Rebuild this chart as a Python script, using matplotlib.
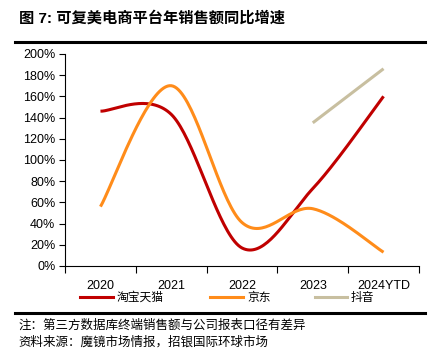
import numpy as np
import matplotlib.pyplot as plt
from matplotlib.lines import Line2D

plt.rcParams['font.family'] = ['Liberation Sans', 'Noto Sans CJK SC', 'DejaVu Sans']

# 数据
years = ['2020', '2021', '2022', '2023', '2024YTD']
taobao = [146, 143, 17, 73, 160]
jd = [56, 170, 41, 54, 13]
douyin_years = ['2023', '2024YTD']
douyin = [135, 186]

series_names = ['淘宝天猫', '京东', '抖音']
title = '图 7: 可复美电商平台年销售额同比增速'
note = '注：第三方数据库终端销售额与公司报表口径有差异'
source = '资料来源：魔镜市场情报，招银国际环球市场'


def smooth(xs, ys, n=40):
    # 类似 Excel 的平滑线 (Catmull-Rom / Bezier)
    xs = np.asarray(xs, float)
    ys = np.asarray(ys, float)
    px = np.concatenate([[xs[0]], xs, [xs[-1]]])
    py = np.concatenate([[ys[0]], ys, [ys[-1]]])
    outx, outy = [], []
    for i in range(1, len(px) - 2):
        t = np.linspace(0, 1, n)
        for p, out in ((px, outx), (py, outy)):
            p0, p1, p2, p3 = p[i - 1], p[i], p[i + 1], p[i + 2]
            c1 = p1 + (p2 - p0) / 6
            c2 = p2 - (p3 - p1) / 6
            out.extend((1 - t) ** 3 * p1 + 3 * (1 - t) ** 2 * t * c1
                       + 3 * (1 - t) * t ** 2 * c2 + t ** 3 * p2)
    return np.array(outx), np.array(outy)


fig = plt.figure(figsize=(4.31, 3.5), dpi=100)
ax = fig.add_axes([0.151, 0.24, 0.821, 0.606])

x = np.arange(len(years))
xd = np.array([years.index(y) for y in douyin_years])

c_red = '#C00000'
c_orange = '#FF8C1A'
c_beige = '#C8BFA0'

sx, sy = smooth(x, taobao)
ax.plot(sx, sy, color=c_red, lw=2.2, solid_capstyle='butt')
sx, sy = smooth(x, jd)
ax.plot(sx, sy, color=c_orange, lw=2.2, solid_capstyle='butt')
ax.plot(xd, douyin, color=c_beige, lw=2.2, solid_capstyle='butt')

ax.set_xlim(-0.5, len(years) - 0.5)
ax.set_ylim(0, 200)
ax.set_yticks(np.arange(0, 201, 20))
ax.set_yticklabels([f'{v}%' for v in range(0, 201, 20)], fontsize=9)
ax.set_xticks(x)
ax.set_xticklabels(years, fontsize=9)
ax.set_xticks(np.arange(-0.5, len(years), 1), minor=True)
ax.tick_params(axis='x', which='major', length=0, pad=10)
ax.tick_params(axis='x', which='minor', length=5, direction='out', width=0.8)
ax.tick_params(axis='y', length=4, width=0.8, pad=3)
for s in ['top', 'right']:
    ax.spines[s].set_visible(False)
ax.spines['left'].set_linewidth(0.8)
ax.spines['bottom'].set_linewidth(0.8)

# 图例 (手动放置)
leg_y = 1 - 297 / 350
for (x0, x1), c, name in zip([(80, 113), (210, 243), (315, 347)],
                             (c_red, c_orange, c_beige), series_names):
    fig.add_artist(Line2D([x0 / 431, x1 / 431], [leg_y, leg_y], color=c, lw=2.2))
    fig.text((x1 + 4) / 431, leg_y, name, fontsize=8.5, va='center',
             family=['Noto Sans CJK SC'])

fig.text(0.045, 0.948, title, fontsize=11, fontweight='bold', va='center',
         family=['Liberation Sans', 'Noto Sans CJK SC'])
fig.add_artist(Line2D([0.035, 0.986], [0.88, 0.88], color='black', lw=2.2))
fig.add_artist(Line2D([0.035, 0.986], [0.106, 0.106], color='black', lw=2.2))
fig.text(0.042, 0.072, note, fontsize=9, va='center', family=['Noto Sans CJK SC'])
fig.text(0.042, 0.022, source, fontsize=9, va='center', family=['Noto Sans CJK SC'])

fig.savefig('out.png', dpi=100)
